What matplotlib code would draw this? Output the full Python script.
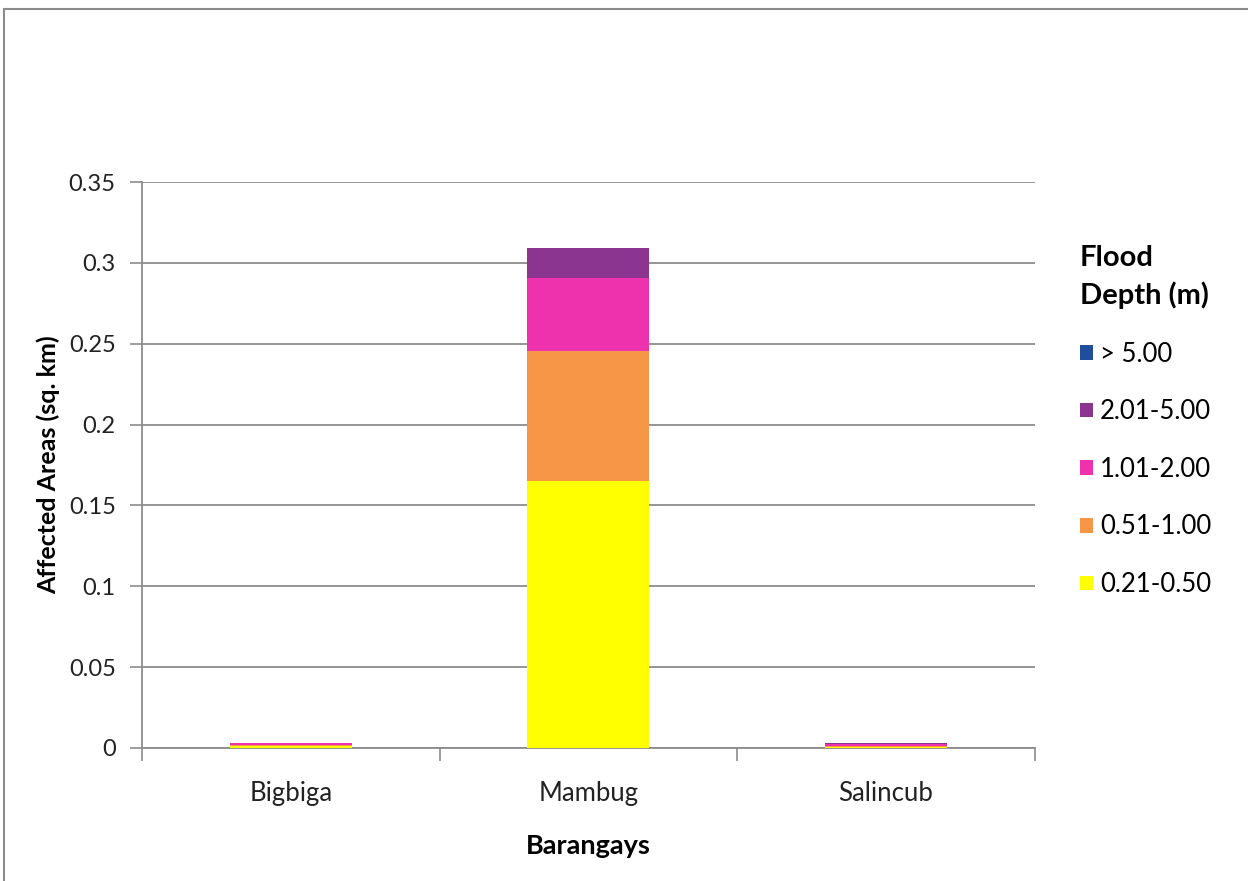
import matplotlib
matplotlib.use("Agg")
import matplotlib.pyplot as plt
from matplotlib.patches import Rectangle, Patch
import numpy as np

plt.rcParams['font.family'] = ['Lato', 'DejaVu Sans']

barangays = ["Bigbiga", "Mambug", "Salincub"]
depth_classes = ["0.21-0.50", "0.51-1.00", "1.01-2.00", "2.01-5.00", "> 5.00"]
colors = ["#FFFF00", "#F79646", "#EE32AD", "#8B3591", "#1F4E9C"]

area_021_050 = [0.0012, 0.165, 0.0005]
area_051_100 = [0.0008, 0.0805, 0.0010]
area_101_200 = [0.0010, 0.0450, 0.0008]
area_201_500 = [0.0000, 0.0190, 0.0008]
area_gt_500 = [0.0, 0.0, 0.0]
series = [area_021_050, area_051_100, area_101_200, area_201_500, area_gt_500]

fig = plt.figure(figsize=(12.48, 8.81), dpi=100)
ax = fig.add_axes([0.1138, 0.151, 0.7153, 0.6424])

x = np.arange(len(barangays))
bottom = np.zeros(len(barangays))
for vals, c, lab in zip(series, colors, depth_classes):
    ax.bar(x, vals, width=0.41, bottom=bottom, color=c, label=lab, zorder=3)
    bottom += np.array(vals)

ax.set_xlim(-0.5, 2.5)
ax.set_ylim(0, 0.35)
ax.set_yticks(np.arange(0, 0.351, 0.05))
ax.set_yticklabels(["0", "0.05", "0.1", "0.15", "0.2", "0.25", "0.3", "0.35"])
ax.yaxis.grid(True, color="#8C8C8C", linewidth=1.3, zorder=0)
ax.set_axisbelow(True)

ax.set_xticks(x)
ax.set_xticklabels(barangays)
ax.set_xticks([-0.5, 0.5, 1.5, 2.5], minor=True)
ax.tick_params(axis="x", which="major", length=0, pad=24, labelsize=18.5, labelcolor="#222222")
ax.tick_params(axis="x", which="minor", length=9, width=1.2, color="#8C8C8C")
ax.tick_params(axis="y", length=9, width=1.2, color="#8C8C8C", labelsize=17, labelcolor="#222222", pad=10)

for s in ["top", "right"]:
    ax.spines[s].set_visible(False)
for s in ["left", "bottom"]:
    ax.spines[s].set_color("#8C8C8C")
    ax.spines[s].set_linewidth(1.3)

ax.set_xlabel("Barangays", fontsize=19.5, fontweight="bold", labelpad=20)
ax.set_ylabel("Affected Areas (sq. km)", fontsize=18, fontweight="bold", labelpad=6)

handles = [Patch(facecolor=c, edgecolor="none") for c in colors][::-1]
labels = depth_classes[::-1]
leg = fig.legend(handles, labels, loc="upper left", bbox_to_anchor=(0.8466, 0.748),
                 frameon=False, fontsize=18.5, labelspacing=1.27,
                 handlelength=0.5, handleheight=0.5, handletextpad=0.3,
                 title="Flood\nDepth (m)", title_fontproperties={"size": 21, "weight": "bold"})
leg._legend_box.align = "left"
leg.get_title().set_linespacing(1.45)

fig.patches.append(Rectangle((0.003, -0.01), 1.5, 1.0, transform=fig.transFigure,
                             fill=False, edgecolor="#8C8C8C", linewidth=1.5))

fig.savefig("out.png", dpi=100)
